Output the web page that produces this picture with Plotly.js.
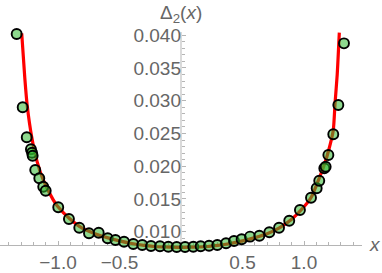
<!DOCTYPE html>
<html>
<head>
<meta charset="utf-8">
<script src="https://cdn.plot.ly/plotly-3.0.1.min.js"></script>
<style>html,body{margin:0;padding:0;background:#fff;}#chart{width:382px;height:273px;}</style>
</head>
<body>
<div id="chart"></div>
<script>
// Sample points (x, Δ2(x))
const pointX = [-1.336,-1.287,-1.254,-1.220,-1.211,-1.206,-1.185,-1.152,-1.120,-1.100,-0.998,-0.911,-0.827,-0.748,-0.669,-0.596,-0.533,
  -0.463,-0.388,-0.315,-0.244,-0.171,-0.103,-0.035,0.033,0.100,0.160,0.228,0.295,0.366,
  0.431,0.493,0.561,0.637,0.718,0.797,0.880,0.967,1.057,1.103,1.124,1.165,1.176,1.198,1.238,1.279,1.325];
const pointY = [0.04018,0.02899,0.02441,0.02258,0.02206,0.02160,0.01942,0.01815,0.01687,0.01626,0.01373,0.01194,0.01061,0.00976,0.00985,0.00899,0.00873,
  0.00847,0.00812,0.00797,0.00782,0.00777,0.00771,0.00766,0.00766,0.00771,0.00777,0.00786,0.00797,0.00823,
  0.00858,0.00884,0.00924,0.00939,0.00991,0.01061,0.01168,0.01331,0.01519,0.01663,0.01779,0.01968,0.01992,0.02171,0.02487,0.02934,0.03876];

// Red curve
const curveX = [-1.295,-1.27,-1.25,-1.214,-1.17,-1.12,-1.04,-1.0,-0.9,-0.8,-0.7,-0.6,-0.5,-0.4,-0.3,-0.2,-0.1,0,
  0.1,0.2,0.3,0.4,0.5,0.6,0.7,0.8,0.9,1.0,1.06,1.12,1.17,1.2,1.238,1.252,1.27,1.287];
const curveY = [0.0403,0.0335,0.0292,0.0245,0.0207,0.0179,0.0149,0.0138,0.0119,0.0105,0.0097,0.0091,0.0086,0.0082,0.0079,0.0077,0.00765,0.0076,
  0.00765,0.0077,0.0079,0.0082,0.0086,0.0091,0.0097,0.0106,0.0119,0.0138,0.0153,0.0180,0.0205,0.0224,0.0255,0.0295,0.0340,0.0404];

// Axis ticks
const xTicks = [-1.0,-0.5,0.5,1.0];
const xTickText = ['\u22121.0','\u22120.5','0.5','1.0'];
const yTicks = [0.010,0.015,0.020,0.025,0.030,0.035,0.040];
const yTickText = ['0.010','0.015','0.020','0.025','0.030','0.035','0.040'];

const xMinor = [];
for (let i = -14; i <= 14; i++) { if (i % 5 !== 0) xMinor.push(i / 10); }
const yMinor = [];
for (let i = 9; i <= 40; i++) { if (i % 5 !== 0) yMinor.push(i / 1000); }

const gray = '#666666';
const axisCol = '#b5b5b5';
const fnt = {family: '"Liberation Sans", Arial, sans-serif', size: 19, color: gray};

const traces = [
  {x: curveX, y: curveY, mode: 'lines', line: {color: '#ff0000', width: 3.2, shape: 'spline', smoothing: 0.6},
   hoverinfo: 'skip', cliponaxis: false, showlegend: false},
  {x: pointX, y: pointY, mode: 'markers', cliponaxis: false, showlegend: false,
   marker: {size: 10, color: 'rgba(50,185,50,0.55)', line: {color: '#000', width: 1.9}}}
];

const layout = {
  width: 382, height: 273,
  margin: {l: 0, r: 20, t: 32, b: 21},
  paper_bgcolor: '#fff', plot_bgcolor: '#fff',
  showlegend: false,
  font: fnt,
  xaxis: {
    range: [-1.4715, 1.4715], anchor: 'free', position: 0.032,
    showgrid: false, zeroline: false, showline: true, linecolor: axisCol, linewidth: 1,
    tickmode: 'array', tickvals: xTicks, ticktext: xTickText,
    ticks: 'inside', ticklen: 4, tickcolor: axisCol, tickwidth: 1,
    minor: {tickmode: 'array', tickvals: xMinor, ticks: 'inside', ticklen: 2.5, tickcolor: axisCol, showgrid: false},
    tickfont: fnt, layer: 'below traces'
  },
  yaxis: {
    range: [0.0069, 0.04049], anchor: 'free', position: 0.5,
    showgrid: false, zeroline: false, showline: false,
    tickmode: 'array', tickvals: yTicks, ticktext: yTickText,
    ticks: 'inside', ticklen: 4, tickcolor: axisCol, tickwidth: 1,
    minor: {tickmode: 'array', tickvals: yMinor, ticks: 'inside', ticklen: 2.5, tickcolor: axisCol, showgrid: false},
    tickfont: fnt, layer: 'below traces'
  },
  shapes: [
    {type: 'line', xref: 'x', yref: 'paper', x0: 0, x1: 0, y0: 0.032, y1: 1, layer: 'below',
     line: {color: axisCol, width: 1}}
  ],
  annotations: [
    {text: '\u0394<sub>2</sub>(<i>x</i>)', xref: 'x', yref: 'paper', x: 0, y: 1, xanchor: 'center', yanchor: 'bottom',
     yshift: 4, showarrow: false, font: fnt},
    {text: '<i>x</i>', xref: 'paper', yref: 'paper', x: 1, y: 0.032, xanchor: 'left', yanchor: 'middle',
     xshift: 5, showarrow: false, font: fnt}
  ]
};

Plotly.newPlot('chart', traces, layout, {displayModeBar: false, staticPlot: true});
</script>
</body>
</html>
